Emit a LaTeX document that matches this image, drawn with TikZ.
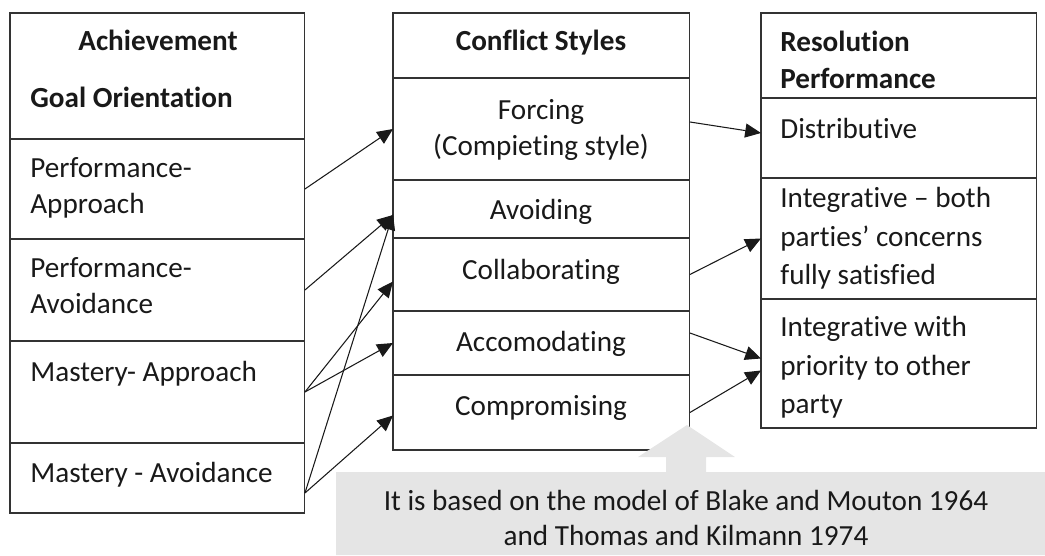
\documentclass[tikz,border=0pt]{standalone}
\usepackage{fontspec}
\setmainfont{Carlito}[Ligatures={NoCommon}]
\usetikzlibrary{arrows.meta}

\begin{document}
\begin{tikzpicture}[x=0.02cm,y=-0.02cm,
  cell/.style={draw=black!80, line width=0.6pt, rectangle, anchor=north west, inner sep=0pt, outer sep=0pt},
  goalcell/.style={cell, minimum width=5.9cm},
  stylecell/.style={cell, minimum width=5.94cm},
  perfcell/.style={cell, minimum width=5.52cm},
  txt/.style={inner sep=0pt, text=black!90, font=\fontsize{16.6}{20.4}\selectfont},
  widetxt/.style={txt, font=\fontsize{16.6}{21.9}\selectfont},
  arr/.style={-{Triangle[length=9pt,width=8pt]}, line width=0.6pt, black!90},
  calloutgray/.style={fill=black!10}]
\useasboundingbox (0,0) rectangle (1045,555);

% left column
\node[goalcell, minimum height=2.52cm] (goal) at (10,13) {};
\node[goalcell, minimum height=2.0cm] (pa) at (10,139) {};
\node[goalcell, minimum height=2.04cm] (pav) at (10,239) {};
\node[goalcell, minimum height=2.04cm] (ma) at (10,341) {};
\node[goalcell, minimum height=1.4cm] (mav) at (10,443) {};
\draw[line width=1.3pt, black!80] (pa.south west) -- (pa.south east);

\node[txt, anchor=base, font=\fontsize{16.6}{20}\selectfont\bfseries] (achieve) at (158,50) {Achievement};
\node[txt, anchor=base west, font=\fontsize{16.6}{20}\selectfont\bfseries] (goalor) at (30,107) {Goal Orientation};
\node[txt, anchor=north west, align=left] (patxt) at (30,157) {Performance-\\Approach};
\node[txt, anchor=north west, align=left] (pavtxt) at (30,257) {Performance-\\Avoidance};
\node[txt, anchor=base west] (matxt) at (30,381) {Mastery- Approach};
\node[txt, anchor=base west] (mavtxt) at (30,482) {Mastery - Avoidance};

% middle column
\node[stylecell, minimum height=1.3cm] (cs) at (393,13) {};
\node[stylecell, minimum height=2.04cm] (forcing) at (393,78) {};
\node[stylecell, minimum height=1.16cm] (avoiding) at (393,180) {};
\node[stylecell, minimum height=1.46cm] (collab) at (393,238) {};
\node[stylecell, minimum height=1.28cm] (accom) at (393,311) {};
\node[stylecell, minimum height=1.5cm] (compro) at (393,375) {};

\node[txt, anchor=base, font=\fontsize{16.6}{20}\selectfont\bfseries] (cstxt) at (541,50) {Conflict Styles};
\node[txt, anchor=north, align=center] (forcingtxt) at (541,99) {Forcing\\(Compieting style)};
\node[txt, anchor=base] (avoidingtxt) at (541,219) {Avoiding};
\node[txt, anchor=base] (collabtxt) at (541,279) {Collaborating};
\node[txt, anchor=base] (accomtxt) at (541,351) {Accomodating};
\node[txt, anchor=base] (comprotxt) at (541,415) {Compromising};

% right column
\node[perfcell, minimum height=1.7cm] (rp) at (761,13) {};
\node[perfcell, minimum height=1.6cm] (distr) at (761,98) {};
\node[perfcell, minimum height=2.42cm] (integ) at (761,178) {};
\node[perfcell, minimum height=2.58cm] (integp) at (761,299) {};

\node[widetxt, anchor=north west, align=left, font=\fontsize{16.6}{21}\selectfont\bfseries] (rptxt) at (780,31) {Resolution\\Performance};
\node[txt, anchor=base west] (distrtxt) at (780,138) {Distributive};
\node[widetxt, anchor=north west, align=left] (integtxt) at (780,187) {Integrative -- both\\parties’ concerns\\fully satisfied};
\node[widetxt, anchor=north west, align=left] (integptxt) at (780,316) {Integrative with\\priority to other\\party};

% arrows
\draw[arr] (pa.east) -- (forcing.west);
\draw[arr] (pav.east) -- ([yshift=-0.12cm]avoiding.west);
\draw[arr] (ma.east) -- ([yshift=-0.14cm]collab.west);
\draw[arr] (ma.east) -- (accom.west);
\draw[arr] ([yshift=-0.3cm]mav.east) -- ([yshift=-0.1cm]avoiding.west);
\draw[arr] ([yshift=-0.3cm]mav.east) -- ([yshift=-0.06cm]compro.west);
\draw[arr] ([yshift=0.14cm]forcing.east) -- ([yshift=0.1cm]distr.west);
\draw[arr] (collab.east) -- (integ.west);
\draw[arr] ([yshift=0.2cm]accom.east) -- ([yshift=0.1cm]integp.west);
\draw[arr] (compro.east) -- ([yshift=-0.14cm]integp.west);

% callout
\fill[calloutgray] (336,472) -- (666,472) -- (666,457) -- (638,457) -- (687,425) -- (735,457)
  -- (706,457) -- (706,472) -- (1045,472) -- (1045,555) -- (336,555) -- cycle;
\node[txt, anchor=north, align=center, font=\fontsize{16.6}{19.8}\selectfont] (note) at (686,490)
  {It is based on the model of Blake and Mouton 1964\\and Thomas and Kilmann 1974};
\end{tikzpicture}
\end{document}
